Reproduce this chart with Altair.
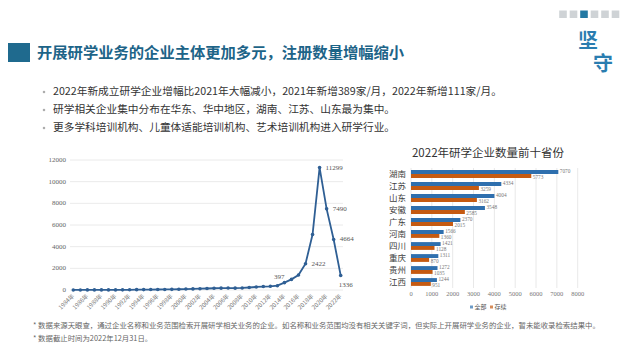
import altair as alt
import pandas as pd

# ---------------- data ----------------
years = list(range(1984, 2023))
new_companies = [5, 6, 8, 8, 10, 9, 10, 12, 20, 30,
                 35, 40, 45, 50, 60, 70, 90, 100, 120, 140,
                 160, 170, 180, 170, 190, 230, 280, 320, 340, 397,
                 680, 980, 1380, 2422, 5120, 11299, 7490, 4664, 1336]
x_tick_labels = ["1984年", "1986年", "1988年", "1990年", "1992年", "1994年", "1996年",
                 "1998年", "2000年", "2002年", "2004年", "2006年", "2008年", "2010年",
                 "2012年", "2014年", "2016年", "2018年", "2020年", "2022年"]
y_ticks_left = [0, 2000, 4000, 6000, 8000, 10000, 12000]
labelled_years_right = [2017, 2019, 2020, 2021]
labelled_year_above = [2013]
labelled_year_below = [2022]

provinces = ["湖南", "江苏", "山东", "安徽", "广东", "河南", "四川", "重庆", "贵州", "江西"]
total = [7070, 4334, 4004, 3548, 2370, 1566, 1421, 1311, 1272, 1244]
active = [5773, 3259, 3162, 2585, 2015, 1360, 1128, 870, 1035, 951]
series = ["全部", "存续"]
x_ticks_right = [0, 1000, 2000, 3000, 4000, 5000, 6000, 7000, 8000]

title = "开展研学业务的企业主体更加多元，注册数量增幅缩小"
bullets = ["2022年新成立研学企业增幅比2021年大幅减小，2021年新增389家/月，2022年新增111家/月。",
           "研学相关企业集中分布在华东、华中地区，湖南、江苏、山东最为集中。",
           "更多学科培训机构、儿童体适能培训机构、艺术培训机构进入研学行业。"]
right_title = "2022年研学企业数量前十省份"
footnotes = ["* 数据来源天眼查，通过企业名称和业务范围检索开展研学相关业务的企业。如名称和业务范围均没有相关关键字词，但实际上开展研学业务的企业，暂未能收录检索结果中。",
             "* 数据截止时间为2022年12月31日。"]

# ---------------- layout helpers (page px -> chart px) ----------------
W, H = 624, 344
def P(v):
    return v - 8

CJK = "Noto Sans CJK SC"
SERIF = "Liberation Serif"
TEAL = "#1f6a8e"
LINE_BLUE = "#2f5f94"
BAR_BLUE = "#2e6fae"
BAR_ORANGE = "#c55a11"

def txt(s, x, y, size, color="#333333", font=CJK, weight="normal", align="left", baseline="middle"):
    return alt.Chart(pd.DataFrame({"t": [s]})).mark_text(
        align=align, baseline=baseline, fontSize=size, font=font, fontWeight=weight, color=color
    ).encode(x=alt.value(x), y=alt.value(y), text="t:N")

layers = []

# header block + title
layers.append(alt.Chart(pd.DataFrame({"a": [0]})).mark_rect(color=TEAL).encode(
    x=alt.value(P(8)), x2=alt.value(P(30)), y=alt.value(P(43)), y2=alt.value(P(62))))
layers.append(txt(title, P(37), P(52.5), 15.3, color="#1d6488", weight="bold"))

# top-right squares
sq_x = [563, 573.5, 584, 594.5, 605, 615.5]
for i, sx in enumerate(sq_x):
    layers.append(alt.Chart(pd.DataFrame({"a": [0]})).mark_rect(
        color="#2479a3" if i == 2 else "#cfd3d6").encode(
        x=alt.value(P(sx - 3.8)), x2=alt.value(P(sx + 3.8)), y=alt.value(P(10.5)), y2=alt.value(P(18))))
layers.append(txt("坚", P(588), P(42), 20, color="#2a7db0", weight="bold", align="center"))
layers.append(txt("守", P(603), P(64.5), 20, color="#2a7db0", weight="bold", align="center"))

# bullets
bullet_y = [92, 110, 128]
for by, b in zip(bullet_y, bullets):
    layers.append(alt.Chart(pd.DataFrame({"a": [0]})).mark_point(
        shape="square", filled=True, size=5, color="#8a8a8a").encode(x=alt.value(P(44)), y=alt.value(P(by))))
    layers.append(txt(b, P(53), P(by), 10.7, color="#333333"))

# ---------------- left line chart ----------------
xs_left = alt.Scale(domain=[1984, 2022], range=[P(73.3), P(340.7)], nice=False, zero=False)
ys_left = alt.Scale(domain=[0, 12000], range=[P(290), P(160)], nice=False)

left_df = pd.DataFrame({"year": years, "n": new_companies})
grid_df = pd.DataFrame({"v": y_ticks_left})

layers.append(alt.Chart(grid_df).mark_rule(color="#e4e4e4", strokeWidth=0.8).encode(
    y=alt.Y("v:Q", scale=ys_left, axis=None), x=alt.value(P(70)), x2=alt.value(P(343))))
layers.append(alt.Chart(grid_df).mark_text(align="right", baseline="middle", fontSize=7,
                                           font=SERIF, color="#666666").encode(
    y=alt.Y("v:Q", scale=ys_left, axis=None), x=alt.value(P(66)), text="v:Q"))

xt_df = pd.DataFrame({"label": x_tick_labels, "yr": [int(s[:4]) for s in x_tick_labels]})
layers.append(alt.Chart(xt_df).mark_text(align="right", baseline="middle", angle=315, fontSize=6,
                                         font=CJK, color="#777777").encode(
    x=alt.X("yr:Q", scale=xs_left, axis=None), y=alt.value(P(295)), text="label:N"))

layers.append(alt.Chart(left_df).mark_line(
    color=LINE_BLUE, strokeWidth=1.8,
    point=alt.OverlayMarkDef(color=LINE_BLUE, size=13, filled=True)).encode(
    x=alt.X("year:Q", scale=xs_left, axis=None), y=alt.Y("n:Q", scale=ys_left, axis=None)))

def left_labels(sel, align, dx, dy):
    d = left_df[left_df["year"].isin(sel)]
    return alt.Chart(d).mark_text(align=align, baseline="middle", dx=dx, dy=dy, fontSize=7,
                                  font=SERIF, color="#555555").encode(
        x=alt.X("year:Q", scale=xs_left, axis=None), y=alt.Y("n:Q", scale=ys_left, axis=None),
        text="n:Q")

layers.append(left_labels(labelled_years_right, "left", 6, 0))
layers.append(left_labels(labelled_year_above, "center", 2, -9))
layers.append(left_labels(labelled_year_below, "center", 5, 9))

# ---------------- right bar chart ----------------
xs_right = alt.Scale(domain=[0, 8000], range=[P(411), P(577.7)], nice=False)
ys_right = alt.Scale(domain=provinces, range=[P(168), P(288)], paddingInner=0.35, paddingOuter=0.175)
yoff = alt.Scale(domain=series, paddingInner=0, paddingOuter=0)
col = alt.Scale(domain=series, range=[BAR_BLUE, BAR_ORANGE])

bar_df = pd.DataFrame({
    "prov": provinces * 2,
    "series": [series[0]] * len(provinces) + [series[1]] * len(provinces),
    "val": total + active,
})

layers.append(txt(right_title, P(488), P(154), 11.5, color="#333333", align="center"))

xg_df = pd.DataFrame({"v": x_ticks_right})
layers.append(alt.Chart(xg_df).mark_rule(color="#e2e2e2", strokeWidth=0.8).encode(
    x=alt.X("v:Q", scale=xs_right, axis=None), y=alt.value(P(168)), y2=alt.value(P(288))))
layers.append(alt.Chart(xg_df).mark_text(align="center", baseline="middle", fontSize=6.5,
                                         font=SERIF, color="#777777").encode(
    x=alt.X("v:Q", scale=xs_right, axis=None), y=alt.value(P(294)), text="v:Q"))

layers.append(alt.Chart(bar_df).mark_bar().encode(
    x=alt.X("val:Q", scale=xs_right, axis=None),
    x2=alt.datum(0),
    y=alt.Y("prov:N", scale=ys_right, axis=None, sort=provinces),
    yOffset=alt.YOffset("series:N", scale=yoff, sort=series),
    color=alt.Color("series:N", scale=col, legend=None)))

for s, dy in zip(series, [-1.2, 1.2]):
    d = bar_df[bar_df["series"] == s]
    layers.append(alt.Chart(d).mark_text(align="left", baseline="middle", dx=1.5, dy=dy, fontSize=5.3,
                                         font=SERIF, color="#777777").encode(
        x=alt.X("val:Q", scale=xs_right, axis=None),
        y=alt.Y("prov:N", scale=ys_right, axis=None, sort=provinces),
        yOffset=alt.YOffset("series:N", scale=yoff, sort=series),
        text="val:Q"))

prov_df = pd.DataFrame({"prov": provinces})
layers.append(alt.Chart(prov_df).mark_text(align="right", baseline="middle", fontSize=8.5,
                                           font=CJK, color="#404040").encode(
    y=alt.Y("prov:N", scale=ys_right, axis=None, sort=provinces), x=alt.value(P(406)), text="prov:N"))

# legend
leg_x = [471.5, 491.5]
for sx, s in zip(leg_x, series):
    layers.append(alt.Chart(pd.DataFrame({"series": [s]})).mark_square(size=9).encode(
        x=alt.value(P(sx)), y=alt.value(P(307)),
        color=alt.Color("series:N", scale=col, legend=None)))
    layers.append(txt(s, P(sx + 3), P(307), 6, color="#555555"))

# footnotes
for fy, f in zip([326, 339], footnotes):
    layers.append(txt(f, P(33), P(fy), 7.4, color="#666666"))

chart = alt.layer(*layers).resolve_scale(
    x="independent", y="independent", color="shared"
).properties(
    width=W, height=H, autosize=alt.AutoSizeParams(type="none"), padding=0,
    background="white"
).configure_view(strokeWidth=0)

chart.save("out.html", embed_options={"renderer": "svg", "actions": False})
